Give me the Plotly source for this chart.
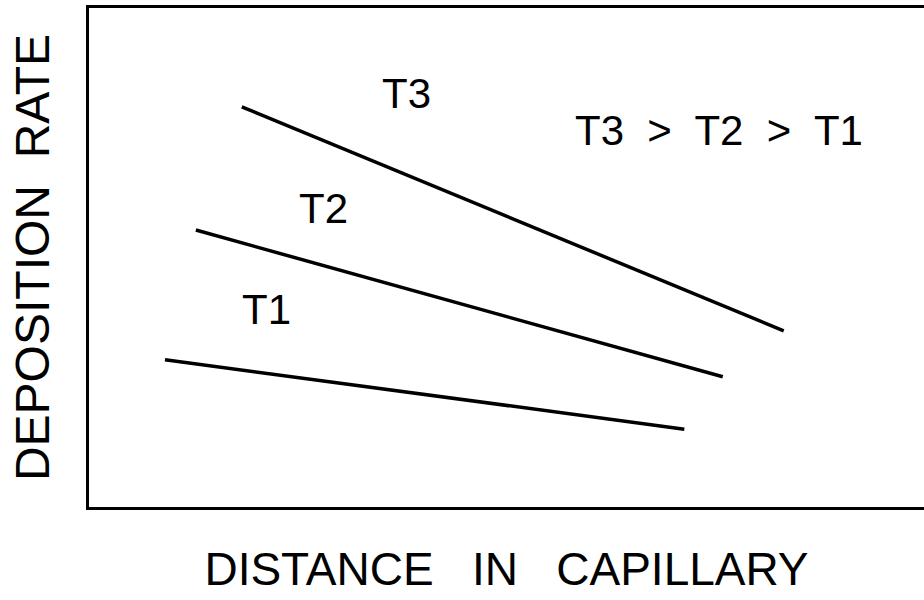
import plotly.graph_objects as go

# schematic curves: distance along capillary vs deposition rate (arbitrary units)
series = ["T3", "T2", "T1"]
dist = {
    "T3": [1.83, 8.32],
    "T2": [1.28, 7.59],
    "T1": [0.91, 7.13],
}
rate = {
    "T3": [8.02, 3.53],
    "T2": [5.55, 2.61],
    "T1": [2.95, 1.56],
}

fig = go.Figure()
for s in series:
    fig.add_trace(go.Scatter(
        x=dist[s], y=rate[s], mode="lines",
        line=dict(color="black", width=3.5),
        showlegend=False, hoverinfo="skip",
    ))

fnt = "Liberation Sans, Arial, sans-serif"
lab_font = dict(family=fnt, size=42, color="black")
labels = [("T3", 3.8, 8.28), ("T2", 2.81, 5.99), ("T1", 2.12, 3.95),
          ("T3  &gt;  T2  &gt;  T1", 7.55, 7.54)]
for txt, x, y in labels:
    fig.add_annotation(x=x, y=y, text=txt, showarrow=False, font=lab_font)

fig.update_layout(
    width=924, height=600,
    plot_bgcolor="white", paper_bgcolor="white",
    margin=dict(l=89, r=0, t=8, b=93, autoexpand=False),
    xaxis=dict(range=[0, 10], showgrid=False, zeroline=False, showticklabels=False,
               ticks="", showline=True, linecolor="black", linewidth=3, mirror=True,
               automargin=False,
               title=dict(text="DISTANCE   IN   CAPILLARY", standoff=44,
                          font=dict(family=fnt, size=46, color="black"))),
    yaxis=dict(range=[0, 10], showgrid=False, zeroline=False, showticklabels=False,
               ticks="", showline=True, linecolor="black", linewidth=3,
               automargin=False,
               title=dict(text="DEPOSITION  RATE", standoff=22,
                          font=dict(family=fnt, size=48, color="black"))),
)

# drop the default body margin so the 924x600 figure fills the window exactly
fig.write_html("out.html", config={"displayModeBar": False},
               post_script="document.body.style.margin='0px';")
